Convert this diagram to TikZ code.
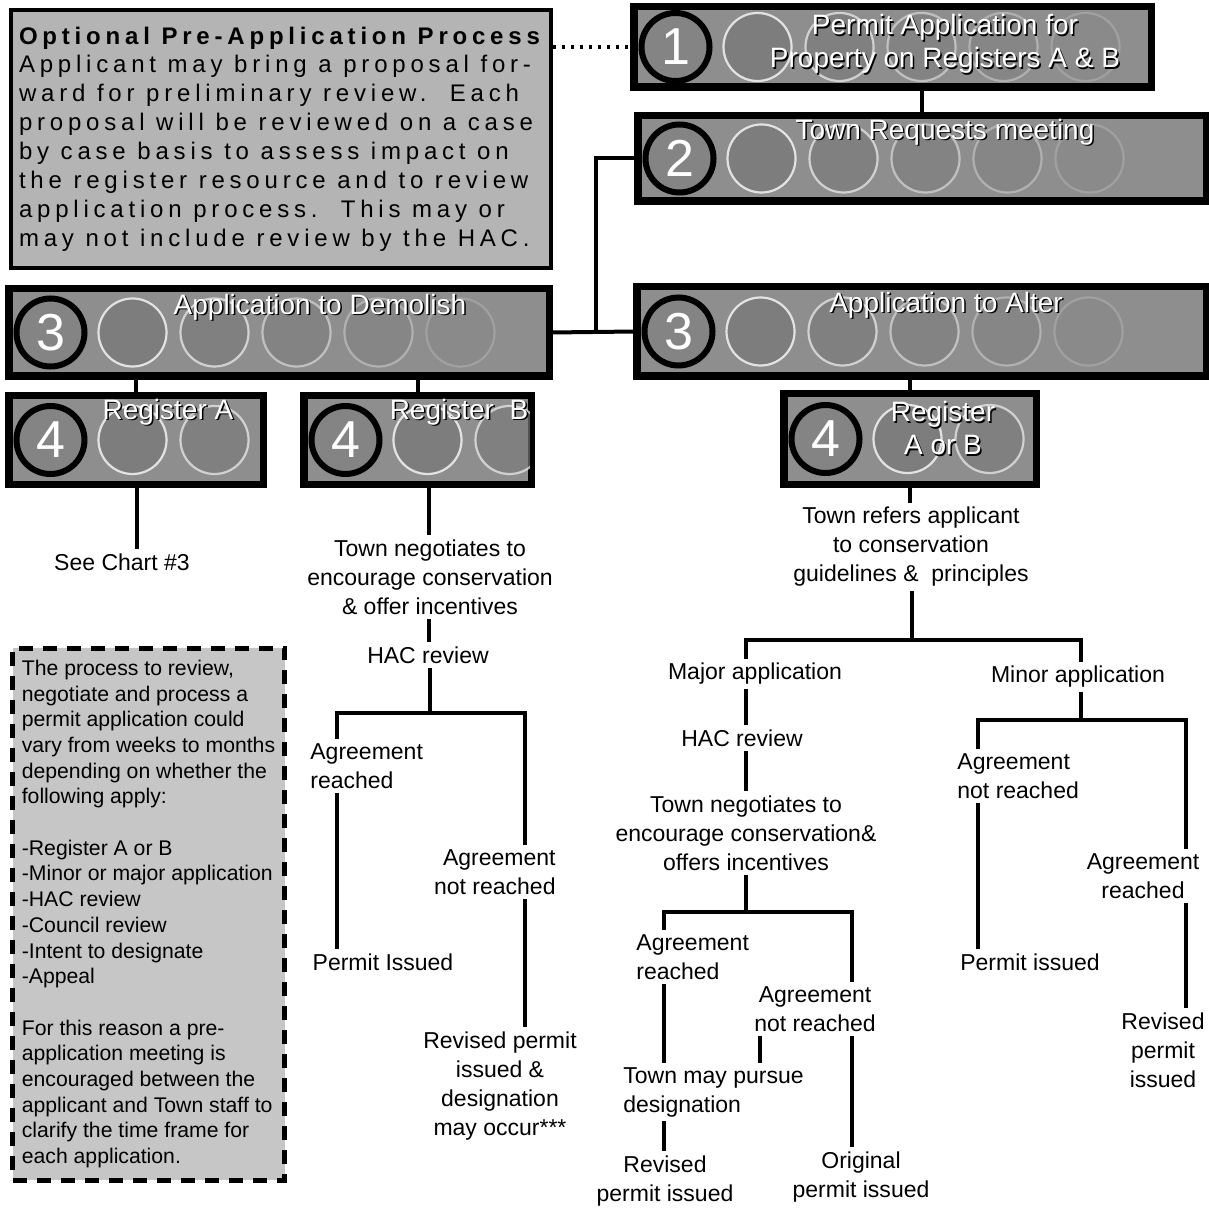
\documentclass[tikz,border=0pt]{standalone}
\usepackage{fontspec}
\setmainfont{Liberation Sans}
\newfontfamily\spaced[LetterSpace=20]{Liberation Sans}
\usepackage{tikz}
\definecolor{boxgray}{RGB}{180, 180, 180}
\definecolor{notegray}{RGB}{198, 198, 198}
\definecolor{bargray}{RGB}{142, 142, 142}
\definecolor{numgray}{RGB}{132, 132, 132}
\definecolor{ringfill}{RGB}{122, 122, 122}
\newcommand*{\widesp}{\spaceskip=5.8pt plus 1pt minus 0pt\relax}
\newcommand*{\barcircles}[2]{%
  \begin{scope}
    \clip (#1.south west) rectangle (#1.north east);
    \foreach \k [evaluate=\k as \op using 1.0-0.16*\k] in {1,...,#2} {
      \draw[decocirc, draw opacity=\op, fill opacity=\op]
        ([xshift=21.5pt+\k*41pt]#1.west) circle [radius=17pt];
    }
  \end{scope}
  \draw[line width=2.5pt] (#1.south west) rectangle (#1.north east);}
\newcommand*{\bartext}[3]{%
  \node (#1s) at ([shift={(1.5,1.5)}]#2) [bartxt, text=black] {#3};
  \node (#1) at (#2) [bartxt] {#3};}

\begin{document}
\begin{tikzpicture}[
   x=0.5pt, y=-0.5pt,
   bar/.style={rectangle, draw=black, fill=bargray, line width=2.5pt, inner sep=0},
   numcirc/.style={circle, draw=black, fill=numgray, line width=3pt, text=white,
                   minimum size=34pt, inner sep=0, font=\fontsize{26}{26}\selectfont},
   decocirc/.style={draw=white!92!gray, line width=1.1pt, fill=ringfill},
   bartxt/.style={text=white, align=center, inner sep=0,
                  font=\fontsize{14}{16.5}\selectfont},
   prebox/.style={rectangle, draw=black, fill=boxgray, line width=2pt, align=left,
                  text width=262pt, minimum height=129pt, inner xsep=4pt,
                  font=\spaced\fontsize{12}{14.45}\selectfont},
   notebox/.style={rectangle, draw=black, fill=notegray, line width=2.5pt,
                   dash pattern=on 7pt off 5pt, align=left, minimum width=136pt,
                   minimum height=266pt, inner sep=2pt,
                   font=\fontsize{10.6}{12.85}\selectfont},
   flow/.style={align=center, inner sep=2pt, font=\fontsize{11.5}{14.5}\selectfont},
   conn/.style={line width=2pt},
   dotlink/.style={line width=1.6pt, dash pattern=on 1.6pt off 2.9pt}
  ]

  \useasboundingbox (0, 0) rectangle (1208, 1213);

  % Pre-application note
  \node (pre) at (281, 139) [prebox] {\widesp{\bfseries\widesp Optional Pre-Application Process}\\
    Applicant may bring a proposal for-\\
    ward for preliminary review.\ \ Each\\
    proposal will be reviewed on a case\\
    by case basis to assess impact on\\
    the register resource and to review\\
    application process.\ \ This may or\\
    may not include review by the HAC.};

  % Steps
  \node (bar1) at (892.5, 47) [bar, minimum width=257.5pt, minimum height=39pt] {};
  \node (bar2) at (922, 158.5) [bar, minimum width=283pt, minimum height=41.5pt] {};
  \node (bar3d) at (279, 332.5) [bar, minimum width=269pt, minimum height=42.5pt] {};
  \node (bar3a) at (921.5, 331.5) [bar, minimum width=283.5pt, minimum height=43.5pt] {};
  \node (bar4a) at (136, 440) [bar, minimum width=126pt, minimum height=43pt] {};
  \node (bar4b) at (417.5, 440) [bar, minimum width=112.5pt, minimum height=43pt] {};
  \node (bar4c) at (910, 439) [bar, minimum width=125pt, minimum height=44pt] {};

  \foreach \S/\N in {bar1/5, bar2/5, bar3d/5, bar3a/5, bar4a/2, bar4b/2, bar4c/2} {
    \barcircles{\S}{\N}
  }

  \node (n1) at ([xshift=21.5pt]bar1.west) [numcirc] {1};
  \node (n2) at ([xshift=21.5pt]bar2.west) [numcirc] {2};
  \node (n3d) at ([xshift=21.5pt]bar3d.west) [numcirc] {3};
  \node (n3a) at ([xshift=21.5pt]bar3a.west) [numcirc] {3};
  \node (n4a) at ([xshift=21.5pt]bar4a.west) [numcirc] {4};
  \node (n4b) at ([xshift=21.5pt]bar4b.west) [numcirc] {4};
  \node (n4c) at ([xshift=21.5pt]bar4c.west) [numcirc] {4};

  \bartext{t1}{945, 44}{Permit Application for\\Property on Registers A \& B}
  \bartext{t2}{945, 132}{Town Requests meeting}
  \bartext{t3d}{320, 307}{Application to Demolish}
  \bartext{t3a}{946, 305}{Application to Alter}
  \bartext{t4a}{168, 412}{Register A}
  \bartext{t4b}{459, 412}{Register \ B}
  \bartext{t4c}{943, 428}{Register\\A or B}

  % Process notes
  \node (note) at (148.5, 914) [notebox] {The process to review,\\
    negotiate and process a\\
    permit application could\\
    vary from weeks to months\\
    depending on whether the\\
    following apply:\\[12.85pt]
    -Register A or B\\
    -Minor or major application\\
    -HAC review\\
    -Council review\\
    -Intent to designate\\
    -Appeal\\[12.85pt]
    For this reason a pre-\\
    application meeting is\\
    encouraged between the\\
    applicant and Town staff to\\
    clarify the time frame for\\
    each application.};

  % Demolish branch
  \node (chart3) at (122, 562) [flow] {See Chart \#3};
  \node (negB) at (430, 577) [flow] {Town negotiates to\\encourage conservation\\\& offer incentives};
  \node (hacB) at (428, 655) [flow] {HAC review};
  \node (agrB) at (306, 766) [flow, anchor=west, align=left] {Agreement\\reached};
  \node (permB) at (383, 962) [flow] {Permit Issued};
  \node (nagrB) at (560, 872) [flow, anchor=east, align=right] {Agreement\\not reached};
  \node (revB) at (500, 1086) [flow] {Revised permit\\issued \&\\designation\\may occur***};

  % Alter branch
  \node (referA) at (911, 547) [flow] {Town refers applicant\\to conservation\\guidelines \&\ \ principles};
  \node (major) at (755, 674) [flow] {Major application};
  \node (minor) at (1078, 677) [flow] {Minor application};
  \node (hacA) at (742, 738) [flow] {HAC review};
  \node (negA) at (746, 833) [flow] {Town negotiates to\\encourage conservation\&\\offers incentives};
  \node (agrA) at (632, 957) [flow, anchor=west, align=left] {Agreement\\reached};
  \node (nagrA) at (815, 1009) [flow] {Agreement\\not reached};
  \node (mayA) at (619, 1092) [flow, anchor=west, align=left] {Town may pursue\\designation};
  \node (revA) at (665, 1181) [flow] {Revised\\permit issued};
  \node (origA) at (861, 1177) [flow] {Original\\permit issued};
  \node (nagrM) at (953, 776) [flow, anchor=west, align=left] {Agreement\\not reached};
  \node (permM) at (1030, 962) [flow] {Permit issued};
  \node (agrM) at (1143, 876) [flow] {Agreement\\reached};
  \node (revM) at (1163, 1050) [flow] {Revised\\permit\\issued};

  % Connectors
  \draw[dotlink] (bar1.west -| pre.east) -- (bar1.west);

  \foreach \B/\E in {bar1/bar2, bar3d/bar4a, bar3d/bar4b, bar3a/bar4c} {
    \draw[conn] (\B.south -| \E.north) -- (\E.north);
  }
  \coordinate (jn) at (596, 332);
  \draw[conn] (bar2.west) -| (jn);
  \draw[conn] (bar3d.east) -- (bar3a.west);

  \foreach \B/\E/\X in {bar4a/chart3/137, bar4b/negB/429, negB/hacB/429,
                        agrB/permB/337, nagrB/revB/525, bar4c/referA/910,
                        major/hacA/746, hacA/negA/746, agrA/mayA/664,
                        nagrA/mayA/760, mayA/revA/664, nagrA/origA/852,
                        nagrM/permM/978, agrM/revM/1186} {
    \coordinate (lx) at (\X, 0);
    \draw[conn] (\B.south -| lx) -- (\E.north -| lx);
  }

  \foreach \P/\L/\R/\XL/\XM/\XR/\Y in {hacB/agrB/nagrB/337/430/525/713,
                                       referA/major/minor/746/912/1081/640,
                                       negA/agrA/nagrA/664/746/852/912,
                                       minor/nagrM/agrM/978/1081/1186/720} {
    \coordinate (bl) at (\XL, \Y);
    \coordinate (bm) at (\XM, \Y);
    \coordinate (br) at (\XR, \Y);
    \draw[conn] (\P.south -| bm) -- (bm);
    \draw[conn] (\L.north -| bl) -- (bl) -- (br) -- (\R.north -| br);
  }

\end{tikzpicture}
\end{document}
